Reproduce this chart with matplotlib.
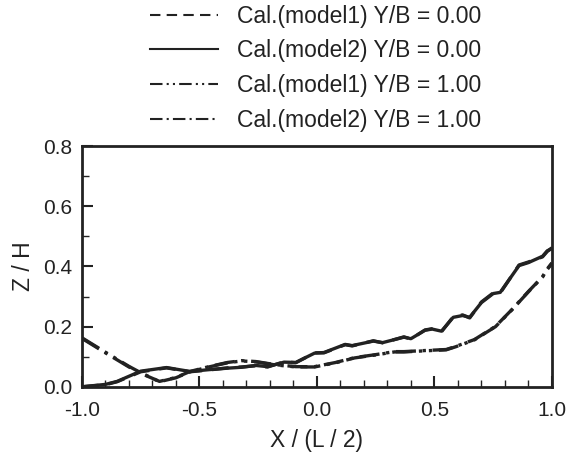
import numpy as np
import matplotlib.pyplot as plt
from matplotlib.ticker import MultipleLocator

# Y/B = 0.00 profiles
x_yb0 = [-1.0, -0.90, -0.85, -0.75, -0.64, -0.54, -0.46, -0.38, -0.32, -0.26, -0.21,
         -0.14, -0.09, -0.01, 0.03, 0.12, 0.15, 0.24, 0.28, 0.37, 0.40, 0.46, 0.49,
         0.53, 0.58, 0.62, 0.65, 0.70, 0.75, 0.78, 0.86, 0.90, 0.96, 0.98, 1.0]
z_model1_yb0 = [0.000, 0.007, 0.017, 0.050, 0.063, 0.050, 0.056, 0.063, 0.066, 0.070, 0.066,
                0.083, 0.080, 0.113, 0.113, 0.140, 0.136, 0.153, 0.146, 0.166, 0.159, 0.189, 0.193,
                0.183, 0.233, 0.239, 0.229, 0.282, 0.312, 0.312, 0.405, 0.415, 0.432, 0.450, 0.462]
z_model2_yb0 = [0.000, 0.008, 0.018, 0.052, 0.064, 0.051, 0.057, 0.062, 0.065, 0.071, 0.067,
                0.082, 0.081, 0.112, 0.114, 0.141, 0.137, 0.152, 0.147, 0.165, 0.160, 0.188, 0.192,
                0.185, 0.231, 0.237, 0.231, 0.280, 0.310, 0.314, 0.403, 0.413, 0.434, 0.452, 0.460]

# Y/B = 1.00 profiles
x_yb1 = [-1.0, -0.90, -0.80, -0.75, -0.67, -0.60, -0.54, -0.46, -0.38, -0.32, -0.26,
         -0.18, -0.09, -0.01, 0.08, 0.16, 0.25, 0.33, 0.37, 0.47, 0.55, 0.59, 0.67,
         0.76, 0.83, 0.90, 0.96, 0.98, 1.0]
z_model1_yb1 = [0.163, 0.115, 0.068, 0.047, 0.017, 0.030, 0.050, 0.066, 0.080, 0.086, 0.083,
                0.073, 0.066, 0.066, 0.080, 0.096, 0.106, 0.116, 0.116, 0.120, 0.123, 0.133, 0.156,
                0.200, 0.256, 0.316, 0.365, 0.390, 0.410]
z_model2_yb1 = [0.161, 0.113, 0.066, 0.045, 0.018, 0.031, 0.051, 0.067, 0.081, 0.087, 0.084,
                0.074, 0.067, 0.067, 0.081, 0.097, 0.107, 0.117, 0.117, 0.121, 0.124, 0.134, 0.157,
                0.201, 0.257, 0.317, 0.366, 0.392, 0.412]

labels = ["Cal.(model1) Y/B = 0.00", "Cal.(model2) Y/B = 0.00",
          "Cal.(model1) Y/B = 1.00", "Cal.(model2) Y/B = 1.00"]

plt.rcParams['font.family'] = ['Liberation Sans', 'DejaVu Sans']

ink = "#222222"
fig = plt.figure(figsize=(5.69, 4.54), dpi=100)
ax = fig.add_axes([0.144, 0.148, 0.826, 0.530])

styles = [(0, (5, 3)), "-", (0, (6, 2, 1, 2, 1, 2)), (0, (6, 2, 1, 2))]
lw = 2.4
ax.plot(x_yb0, z_model1_yb0, color=ink, lw=lw, linestyle=styles[0])
ax.plot(x_yb0, z_model2_yb0, color=ink, lw=lw, linestyle=styles[1])
ax.plot(x_yb1, z_model1_yb1, color=ink, lw=lw, linestyle=styles[2])
ax.plot(x_yb1, z_model2_yb1, color=ink, lw=lw, linestyle=styles[3])

ax.set_xlim(-1.0, 1.0)
ax.set_ylim(0.0, 0.8)
ax.xaxis.set_major_locator(MultipleLocator(0.5))
ax.xaxis.set_minor_locator(MultipleLocator(0.1))
ax.yaxis.set_major_locator(MultipleLocator(0.2))
ax.yaxis.set_minor_locator(MultipleLocator(0.1))
ax.xaxis.set_major_formatter(plt.FormatStrFormatter("%.1f"))
ax.yaxis.set_major_formatter(plt.FormatStrFormatter("%.1f"))
ax.tick_params(which="both", direction="in", colors=ink, labelsize=15)
ax.tick_params(which="major", length=8, width=1.5)
ax.tick_params(axis="x", which="major", pad=10)
ax.tick_params(axis="y", which="major", pad=7)
ax.tick_params(which="minor", length=5, width=1.0)
for s in ax.spines.values():
    s.set_linewidth(2.0)
    s.set_color(ink)

ax.set_xlabel("X / (L / 2)", fontsize=16.5, color=ink, labelpad=7)
ax.set_ylabel("Z / H", fontsize=16.5, color=ink, labelpad=6)

# legend handles drawn thinner than the data lines
leg_lines = []
for ls in styles:
    h, = ax.plot([], [], color=ink, lw=1.5, linestyle=ls)
    leg_lines.append(h)
fig.legend(leg_lines, labels, loc="upper left", bbox_to_anchor=(0.264, 0.99),
           frameon=False, fontsize=16.5, handlelength=2.95, handletextpad=0.85,
           labelspacing=0.52, borderpad=0, borderaxespad=0, labelcolor=ink)

fig.savefig("out.png", dpi=100)
